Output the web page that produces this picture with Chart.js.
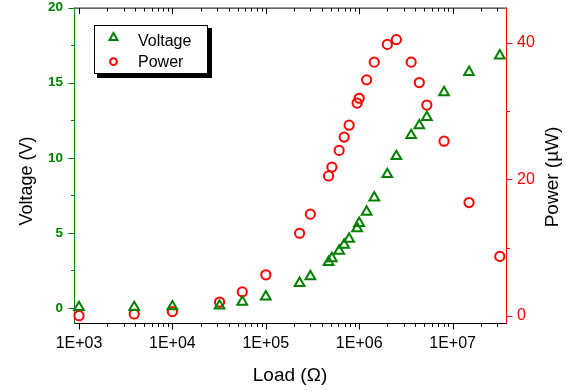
<!DOCTYPE html>
<html><head><meta charset="utf-8">
<script src="https://cdn.jsdelivr.net/npm/chart.js@4/dist/chart.umd.min.js"></script>
<style>html,body{margin:0;padding:0;background:#fff;overflow:hidden}#wrap{width:581px;height:391px;position:relative}</style>
</head><body><div id="wrap"><canvas id="c" width="581" height="391"></canvas></div>
<script>
// ---- data ----
const loads = [1000, 3900, 10000, 32000, 56000, 100000, 230000, 300000, 470000, 510000, 610000, 690000, 780000, 950000, 1000000, 1200000, 1450000, 2000000, 2500000, 3600000, 4400000, 5300000, 8100000, 15000000, 32000000];
const voltage = [0.05, 0.05, 0.1, 0.15, 0.4, 0.75, 1.65, 2.1, 3.05, 3.3, 3.8, 4.2, 4.6, 5.3, 5.65, 6.4, 7.35, 8.9, 10.1, 11.5, 12.15, 12.7, 14.35, 15.7, 16.8];
const power = [0.0, 0.25, 0.6, 2.0, 3.5, 6.0, 12.1, 14.9, 20.5, 21.8, 24.25, 26.2, 27.95, 31.2, 31.9, 34.6, 37.2, 39.8, 40.5, 37.2, 34.2, 30.9, 25.6, 16.6, 8.7];
const seriesNames = ['Voltage', 'Power'];
const loadTicks = [1e3, 1e4, 1e5, 1e6, 1e7];
const loadTickLabels = ['1E+03', '1E+04', '1E+05', '1E+06', '1E+07'];
const loadMinorTicks = [];
[1e3, 1e4, 1e5, 1e6, 1e7].forEach(d => { for (let k = 2; k <= 9; k++) loadMinorTicks.push(k * d); });
const voltTicks = [0, 5, 10, 15, 20];
const voltMinorTicks = [2.5, 7.5, 12.5, 17.5];
const powerTicks = [0, 20, 40];
const powerMinorTicks = [10, 30];
const axisTitles = { x: 'Load (\u03A9)', yV: 'Voltage (V)', yP: 'Power (\u00B5W)' };

const GREEN = '#008000', RED = '#ff0000';
const FONT = '"Liberation Sans", Arial, sans-serif';

const noPad = s => { s.paddingTop = 0; s.paddingBottom = 0; s.paddingLeft = 0; s.paddingRight = 0; };

const axesPlugin = {
  id: 'axesPlugin',
  beforeDatasetsDraw(chart) {
    const { ctx, chartArea: a, scales } = chart;
    const L = a.left + 0.5, R = a.right + 0.5, T = a.top + 0.5, B = a.bottom + 0.5;
    ctx.save();
    ctx.lineWidth = 1;
    const seg = (x1, y1, x2, y2, c) => { ctx.strokeStyle = c; ctx.beginPath(); ctx.moveTo(x1, y1); ctx.lineTo(x2, y2); ctx.stroke(); };
    seg(a.left, B, a.right + 1, B, '#000');
    seg(a.left, T, a.right + 1, T, '#000');
    const xs = scales.x;
    loadTicks.forEach(v => { const p = Math.round(xs.getPixelForValue(v)) + 0.5; seg(p, B, p, B + 6, '#000'); seg(p, T, p, T + 6, '#000'); });
    loadMinorTicks.forEach(v => { const p = xs.getPixelForValue(v); if (p < a.left || p > a.right) return; const q = Math.round(p) + 0.5; seg(q, B, q, B + 3.5, '#000'); seg(q, T, q, T + 3.5, '#000'); });
    const yv = scales.yV;
    seg(L, a.top, L, a.bottom + 1, GREEN);
    voltTicks.forEach(v => { const p = Math.round(yv.getPixelForValue(v)) + 0.5; seg(L - 6, p, L, p, GREEN); });
    voltMinorTicks.forEach(v => { const p = Math.round(yv.getPixelForValue(v)) + 0.5; seg(L - 3.5, p, L, p, GREEN); });
    const yp = scales.yP;
    seg(R, a.top, R, a.bottom + 1, RED);
    powerTicks.forEach(v => { const p = Math.round(yp.getPixelForValue(v)) + 0.5; seg(R, p, R + 6, p, RED); });
    powerMinorTicks.forEach(v => { const p = Math.round(yp.getPixelForValue(v)) + 0.5; seg(R, p, R + 3.5, p, RED); });
    ctx.restore();
  },
  afterDraw(chart) {
    const { ctx, chartArea: a } = chart;
    ctx.save();
    ctx.fillStyle = '#000';
    ctx.textAlign = 'center';
    ctx.textBaseline = 'middle';
    ctx.font = '19px ' + FONT;
    ctx.fillText(axisTitles.x, (a.left + a.right) / 2, 376);
    ctx.font = '18px ' + FONT;
    ctx.save(); ctx.translate(27, 181); ctx.rotate(-Math.PI / 2); ctx.fillText(axisTitles.yV, 0, 0); ctx.restore();
    ctx.font = '19px ' + FONT;
    ctx.save(); ctx.translate(553, 177); ctx.rotate(-Math.PI / 2); ctx.fillText(axisTitles.yP, 0, 0); ctx.restore();
    // legend
    const lx = 94, ly = 25, lw = 113, lh = 48;
    ctx.fillStyle = '#000';
    ctx.fillRect(lx + 3, ly + 3, lw + 2, lh + 2);
    ctx.fillStyle = '#fff';
    ctx.fillRect(lx, ly, lw, lh);
    ctx.strokeStyle = '#000'; ctx.lineWidth = 1;
    ctx.strokeRect(lx + 0.5, ly + 0.5, lw, lh);
    const ds = chart.data.datasets;
    ctx.lineWidth = 2; ctx.strokeStyle = GREEN; ctx.fillStyle = 'rgba(0,0,0,0)';
    Chart.helpers.drawPoint(ctx, { pointStyle: 'triangle', radius: 4.6, borderWidth: 2, rotation: 0 }, 113.5, 37.6);
    ctx.strokeStyle = RED;
    Chart.helpers.drawPoint(ctx, { pointStyle: 'circle', radius: 3.4, borderWidth: 2, rotation: 0 }, 113.5, 61.7);
    ctx.fillStyle = '#000';
    ctx.font = '16px ' + FONT;
    ctx.textAlign = 'left'; ctx.textBaseline = 'alphabetic';
    ctx.fillText(ds[0].label, 138, 45.5);
    ctx.fillText(ds[1].label, 138, 66.5);
    ctx.restore();
  }
};

new Chart(document.getElementById('c'), {
  type: 'scatter',
  data: {
    datasets: [
      { label: seriesNames[0], data: loads.map((x, i) => ({ x, y: voltage[i] })), yAxisID: 'yV', pointStyle: 'triangle', pointRadius: 5.6, borderWidth: 2, borderColor: GREEN, backgroundColor: 'rgba(0,0,0,0)', clip: false },
      { label: seriesNames[1], data: loads.map((x, i) => ({ x, y: power[i] })), yAxisID: 'yP', pointStyle: 'circle', pointRadius: 4.6, borderWidth: 2, borderColor: RED, backgroundColor: 'rgba(0,0,0,0)', clip: false }
    ]
  },
  options: {
    responsive: false, animation: false, devicePixelRatio: 1,
    layout: { padding: { top: 7, left: 0, right: 0, bottom: 0 } },
    plugins: { legend: { display: false }, tooltip: { enabled: false } },
    scales: {
      x: {
        type: 'logarithmic', position: 'bottom', min: 884, max: 3.73e7,
        grid: { display: false, drawTicks: false }, border: { display: false },
        afterBuildTicks: s => { s.ticks = loadTicks.map(v => ({ value: v })); },
        ticks: { callback: (v, i) => loadTickLabels[i], color: '#000', font: { family: FONT, size: 16 }, padding: 11, maxRotation: 0, autoSkip: false },
        afterFit: s => { s.height = 68; noPad(s); }
      },
      yV: {
        type: 'linear', position: 'left', min: -1, max: 20,
        grid: { display: false, drawTicks: false }, border: { display: false },
        afterBuildTicks: s => { s.ticks = voltTicks.map(v => ({ value: v })); },
        ticks: { color: GREEN, font: { family: FONT, size: 13.5, weight: 'bold' }, padding: 11 },
        afterFit: s => { s.width = 74; noPad(s); }
      },
      yP: {
        type: 'linear', position: 'right', min: -1.07, max: 45.2,
        grid: { display: false, drawTicks: false }, border: { display: false },
        afterBuildTicks: s => { s.ticks = powerTicks.map(v => ({ value: v })); },
        ticks: { color: RED, font: { family: FONT, size: 16 }, padding: 11 },
        afterFit: s => { s.width = 75; noPad(s); }
      }
    }
  },
  plugins: [axesPlugin]
});
</script></body></html>
